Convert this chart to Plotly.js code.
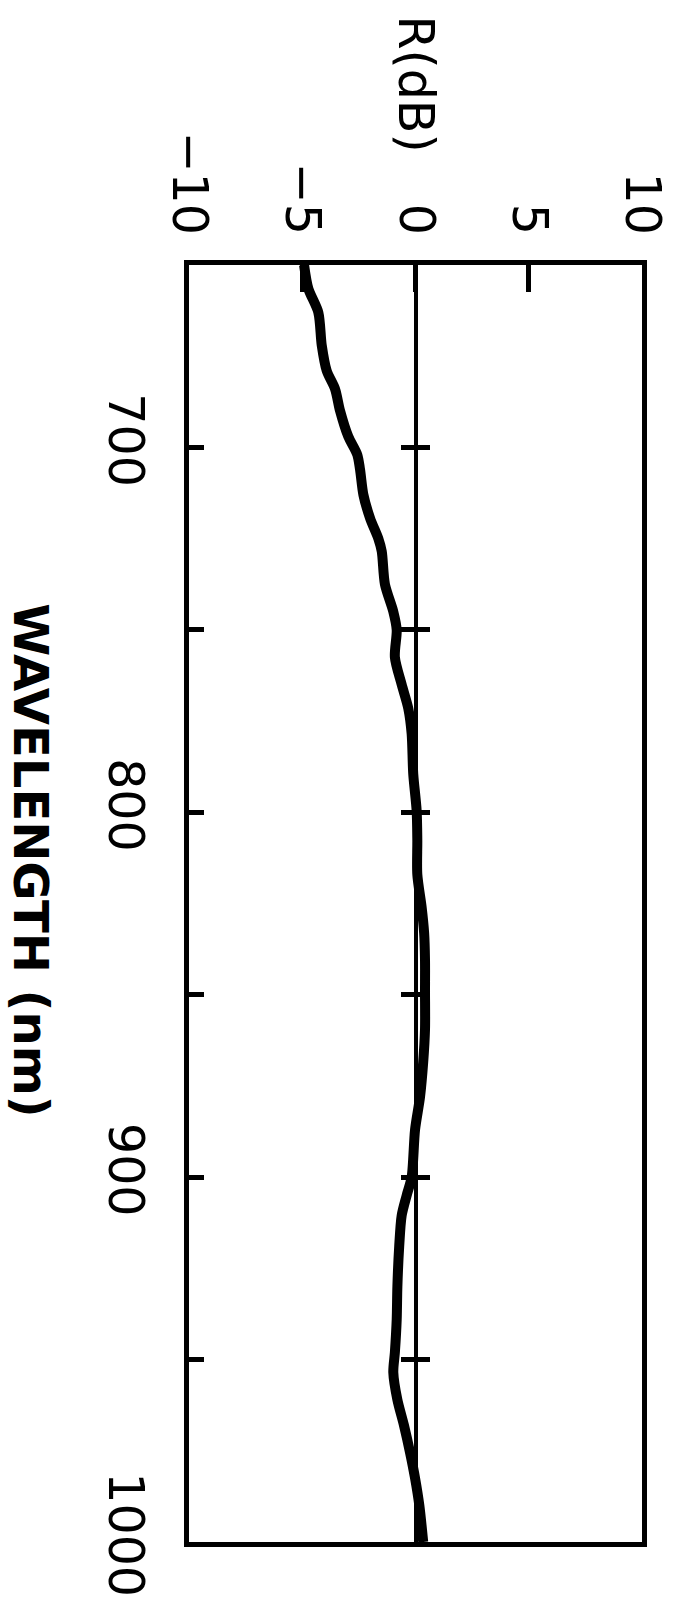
<!DOCTYPE html>
<html>
<head>
<meta charset="utf-8">
<script src="https://cdn.plot.ly/plotly-3.0.1.min.js"></script>
<style>
html,body{margin:0;padding:0;background:#fff;}
#chart{width:681px;height:1611px;}
</style>
</head>
<body>
<div id="chart"></div>
<script>
// Wavelength (nm) and reflectance R (dB)
var wavelength = [650, 656.5, 663, 672, 679, 684, 690, 697, 702, 706, 713, 719.5, 725, 728.5, 737.5, 745, 750, 757.5, 765, 771.5, 778.5, 789.5, 799.5, 807.5, 817, 826, 833, 840.5, 849, 859.5, 868.5, 878, 887, 900, 905, 910.5, 919, 930, 939, 948, 953.5, 961, 968, 975.5, 982.5, 990, 1000];
var rdB = [-4.92, -4.73, -4.29, -4.14, -3.92, -3.55, -3.33, -2.97, -2.57, -2.45, -2.30, -2.0, -1.64, -1.49, -1.35, -0.98, -0.83, -0.91, -0.61, -0.32, -0.17, -0.10, 0.05, 0.08, 0.08, 0.27, 0.38, 0.42, 0.42, 0.42, 0.34, 0.20, -0.02, -0.17, -0.39, -0.61, -0.72, -0.80, -0.83, -0.91, -0.98, -0.80, -0.51, -0.24, -0.02, 0.17, 0.34];

var rTickVals = [-10, -5, 0, 5, 10];
var rTickText = ['\u221210', '\u22125', '0', '5', '10'];
var wlTickVals = [700, 800, 900, 1000];
var wlTickText = ['700', '800', '900', '1000'];
var wlCrossTicks = [700, 750, 800, 850, 900, 950];
var wlRange = [1000, 650];
var rRange = [-10, 10];

var tickFont = {family: 'DejaVu Sans', size: 49, color: '#000'};

var traces = [
  {
    type: 'scatter', mode: 'lines',
    x: rdB, y: wavelength,
    line: {color: '#000', width: 10, shape: 'spline', smoothing: 0.8},
    hoverinfo: 'skip', showlegend: false
  },
  // invisible copies so the zero-line axes (y2, y3) are drawn
  {type: 'scatter', mode: 'lines', x: rdB, y: wavelength, yaxis: 'y2', opacity: 0,
   line: {width: 0}, hoverinfo: 'skip', showlegend: false},
  {type: 'scatter', mode: 'lines', x: rdB, y: wavelength, yaxis: 'y3', opacity: 0,
   line: {width: 0}, hoverinfo: 'skip', showlegend: false}
];

var layout = {
  width: 681, height: 1611,
  margin: {l: 189, r: 39, t: 265, b: 69},
  paper_bgcolor: '#fff', plot_bgcolor: '#fff',
  showlegend: false,
  xaxis: {
    side: 'top', range: rRange, tickvals: rTickVals, ticktext: rTickText,
    tickangle: 90, tickfont: tickFont, ticks: 'inside', ticklen: 27, tickwidth: 5, tickcolor: '#000',
    ticklabelstandoff: 8,
    showline: true, linewidth: 5, linecolor: '#000', mirror: true,
    showgrid: false, zeroline: false, fixedrange: true
  },
  yaxis: {
    range: wlRange, tickvals: wlTickVals, ticktext: wlTickText,
    tickangle: 90, tickfont: tickFont, ticks: 'inside', ticklen: 15, tickwidth: 5, tickcolor: '#000',
    ticklabelstandoff: 16,
    minor: {tickvals: wlCrossTicks, ticks: 'inside', ticklen: 15, tickwidth: 5, tickcolor: '#000', showgrid: false},
    showline: true, linewidth: 5, linecolor: '#000', mirror: true,
    showgrid: false, zeroline: false, fixedrange: true
  },
  yaxis2: {
    overlaying: 'y', anchor: 'free', position: 0.5, side: 'left',
    range: wlRange, tickvals: wlCrossTicks, showticklabels: false,
    ticks: 'outside', ticklen: 13, tickwidth: 5, tickcolor: '#000',
    showline: true, linewidth: 4, linecolor: '#000',
    showgrid: false, zeroline: false, fixedrange: true
  },
  yaxis3: {
    overlaying: 'y', anchor: 'free', position: 0.5, side: 'right',
    range: wlRange, tickvals: wlCrossTicks, showticklabels: false,
    ticks: 'outside', ticklen: 13, tickwidth: 5, tickcolor: '#000',
    showline: false,
    showgrid: false, zeroline: false, fixedrange: true
  },
  annotations: [
    {text: 'R(dB)', textangle: 90, xref: 'x', x: 0, yref: 'paper', y: 1.1417,
     xanchor: 'center', yanchor: 'middle', showarrow: false,
     font: {family: 'DejaVu Sans', size: 49, color: '#000'}},
    {text: '<b>WAVELENGTH (nm)</b>', textangle: 90, xref: 'paper', x: -0.349, yref: 'paper', y: 0.534,
     xanchor: 'center', yanchor: 'middle', showarrow: false,
     font: {family: 'DejaVu Sans', size: 48, color: '#000'}}
  ]
};

Plotly.newPlot('chart', traces, layout, {displayModeBar: false, staticPlot: true});
</script>
</body>
</html>
